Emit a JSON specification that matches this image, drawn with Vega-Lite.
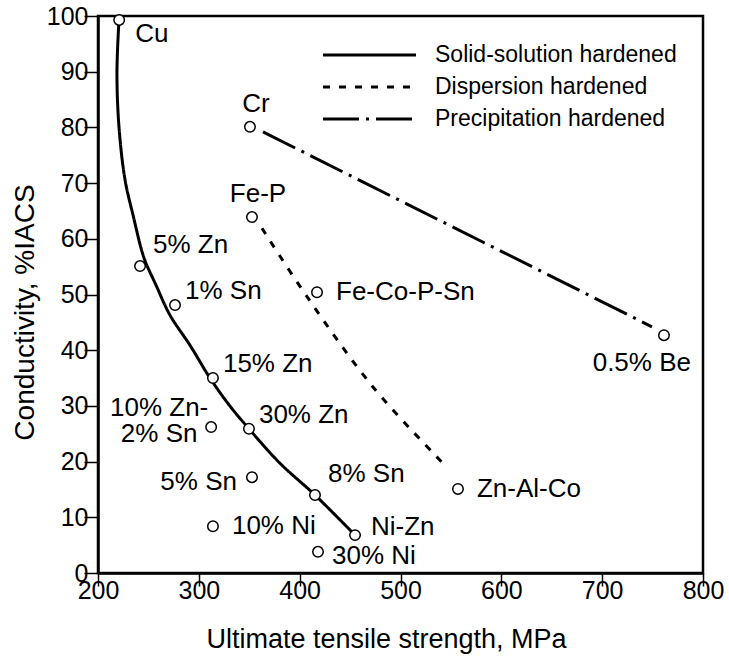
{
  "$schema": "https://vega.github.io/schema/vega-lite/v6.json",
  "width": 605,
  "height": 557,
  "autosize": {"type": "none"},
  "padding": {"left": 98, "top": 16, "right": 26, "bottom": 84},
  "background": "white",
  "config": {
    "font": "Liberation Sans",
    "view": {"stroke": "black", "strokeWidth": 2.5},
    "axis": {
      "domainColor": "black", "domainWidth": 2.5,
      "tickColor": "black", "tickWidth": 1.5,
      "labelColor": "black", "titleColor": "black",
      "grid": false,
      "labelFont": "Liberation Sans", "titleFont": "Liberation Sans",
      "titleFontWeight": "normal"
    }
  },
  "datasets": {
    "alloys": [
      {"name": "Cu", "strength": 221, "conductivity": 99.3, "side": "downright"},
      {"name": "5% Zn", "strength": 241.7, "conductivity": 55.1, "side": "upfar"},
      {"name": "1% Sn", "strength": 276.4, "conductivity": 48.1, "side": "upright"},
      {"name": "15% Zn", "strength": 314, "conductivity": 35, "side": "upright"},
      {"name": "10% Zn-\n2% Sn", "strength": 312.2, "conductivity": 26.2, "side": "upleft"},
      {"name": "30% Zn", "strength": 349.7, "conductivity": 25.9, "side": "upright"},
      {"name": "5% Sn", "strength": 352.7, "conductivity": 17.2, "side": "left"},
      {"name": "8% Sn", "strength": 415.2, "conductivity": 14, "side": "upfar"},
      {"name": "10% Ni", "strength": 314, "conductivity": 8.4, "side": "right"},
      {"name": "Ni-Zn", "strength": 454.9, "conductivity": 6.8, "side": "rightup"},
      {"name": "30% Ni", "strength": 418.2, "conductivity": 3.8, "side": "rightdown"},
      {"name": "Cr", "strength": 350.7, "conductivity": 80.1, "side": "above"},
      {"name": "Fe-P", "strength": 352.7, "conductivity": 63.9, "side": "above"},
      {"name": "Fe-Co-P-Sn", "strength": 417.2, "conductivity": 50.4, "side": "right"},
      {"name": "Zn-Al-Co", "strength": 557, "conductivity": 15.1, "side": "right"},
      {"name": "0.5% Be", "strength": 761.3, "conductivity": 42.7, "side": "below"}
    ],
    "curves": [
      {"series": "Solid-solution hardened", "order": 1, "strength": 220.8, "conductivity": 99.3},
      {"series": "Solid-solution hardened", "order": 2, "strength": 218.8, "conductivity": 89.8},
      {"series": "Solid-solution hardened", "order": 3, "strength": 220.8, "conductivity": 80.1},
      {"series": "Solid-solution hardened", "order": 4, "strength": 226.8, "conductivity": 70.6},
      {"series": "Solid-solution hardened", "order": 5, "strength": 234.7, "conductivity": 64.3},
      {"series": "Solid-solution hardened", "order": 6, "strength": 245.6, "conductivity": 56.6},
      {"series": "Solid-solution hardened", "order": 7, "strength": 257.5, "conductivity": 51.7},
      {"series": "Solid-solution hardened", "order": 8, "strength": 271.4, "conductivity": 46.3},
      {"series": "Solid-solution hardened", "order": 9, "strength": 291.2, "conductivity": 40.9},
      {"series": "Solid-solution hardened", "order": 10, "strength": 311.1, "conductivity": 35.0},
      {"series": "Solid-solution hardened", "order": 11, "strength": 329.9, "conductivity": 30.2},
      {"series": "Solid-solution hardened", "order": 12, "strength": 349.7, "conductivity": 25.9},
      {"series": "Solid-solution hardened", "order": 13, "strength": 380.5, "conductivity": 19.7},
      {"series": "Solid-solution hardened", "order": 14, "strength": 415.2, "conductivity": 14.0},
      {"series": "Solid-solution hardened", "order": 15, "strength": 454.9, "conductivity": 6.8},
      {"series": "Dispersion hardened", "order": 1, "strength": 362.6, "conductivity": 61.9},
      {"series": "Dispersion hardened", "order": 2, "strength": 407.3, "conductivity": 49.6},
      {"series": "Dispersion hardened", "order": 3, "strength": 472.7, "conductivity": 33.4},
      {"series": "Dispersion hardened", "order": 4, "strength": 542.1, "conductivity": 19.7},
      {"series": "Precipitation hardened", "order": 1, "strength": 363.6, "conductivity": 79.2},
      {"series": "Precipitation hardened", "order": 2, "strength": 749.4, "conductivity": 44.2}
    ]
  },
  "encoding": {
    "x": {
      "field": "strength", "type": "quantitative",
      "scale": {"domain": [200, 800], "nice": false, "zero": false},
      "axis": {
        "title": "Ultimate tensile strength, MPa",
        "values": [200, 300, 400, 500, 600, 700, 800],
        "format": "d", "tickSize": 13, "labelPadding": -8,
        "labelFontSize": 25, "labelOverlap": false, "labelFlush": false,
        "titleFontSize": 27, "titleX": 288, "titleY": 74,
        "titleBaseline": "alphabetic", "titleAlign": "center", "titleAnchor": null,
        "encode": {"ticks": {"update": {"y2": {"value": -13}}}}
      }
    },
    "y": {
      "field": "conductivity", "type": "quantitative",
      "scale": {"domain": [0, 100], "nice": false, "zero": false},
      "axis": {
        "title": "Conductivity, %IACS",
        "values": [0, 10, 20, 30, 40, 50, 60, 70, 80, 90, 100],
        "format": "d", "tickSize": 14, "labelPadding": -4,
        "labelFontSize": 25, "labelOverlap": false, "labelFlush": false,
        "titleFontSize": 28, "titleX": -65, "titleY": 296,
        "titleBaseline": "alphabetic", "titleAlign": "center", "titleAnchor": null,
        "encode": {"ticks": {"update": {"x2": {"value": 14}}}}
      }
    }
  },
  "layer": [
    {
      "data": {"name": "curves"},
      "mark": {"type": "line", "interpolate": "catmull-rom", "strokeWidth": 3, "color": "black"},
      "encoding": {
        "strokeDash": {
          "field": "series", "type": "nominal",
          "scale": {
            "domain": ["Solid-solution hardened", "Dispersion hardened", "Precipitation hardened"],
            "range": [[1, 0], [7, 9], [36, 7, 3, 7]]
          },
          "legend": {
            "title": null, "orient": "none", "legendX": 208, "legendY": 22,
            "padding": 0, "symbolType": "M0,0H6", "symbolSize": 961,
            "symbolStrokeWidth": 3, "symbolStrokeColor": "black", "symbolFillColor": "transparent",
            "labelFontSize": 23, "labelFont": "Liberation Sans", "labelColor": "black",
            "labelOffset": 95, "labelLimit": 400, "rowPadding": 3
          }
        },
        "order": {"field": "order", "type": "quantitative"}
      }
    },
    {
      "data": {"name": "alloys"},
      "mark": {"type": "point", "shape": "circle", "filled": true, "fill": "white", "stroke": "black", "strokeWidth": 1.5, "size": 110, "opacity": 1}
    },
    {
      "data": {"name": "alloys"},
      "transform": [{"filter": "datum.side === 'right'"}],
      "mark": {"type": "text", "align": "left", "baseline": "middle", "dx": 19, "dy": 0, "fontSize": 26, "font": "Liberation Sans", "color": "black"},
      "encoding": {"text": {"field": "name", "type": "nominal"}}
    },
    {
      "data": {"name": "alloys"},
      "transform": [{"filter": "datum.side === 'rightup'"}],
      "mark": {"type": "text", "align": "left", "baseline": "middle", "dx": 16, "dy": -8, "fontSize": 26, "font": "Liberation Sans", "color": "black"},
      "encoding": {"text": {"field": "name", "type": "nominal"}}
    },
    {
      "data": {"name": "alloys"},
      "transform": [{"filter": "datum.side === 'rightdown'"}],
      "mark": {"type": "text", "align": "left", "baseline": "middle", "dx": 14, "dy": 4, "fontSize": 26, "font": "Liberation Sans", "color": "black"},
      "encoding": {"text": {"field": "name", "type": "nominal"}}
    },
    {
      "data": {"name": "alloys"},
      "transform": [{"filter": "datum.side === 'upright'"}],
      "mark": {"type": "text", "align": "left", "baseline": "middle", "dx": 10, "dy": -14, "fontSize": 26, "font": "Liberation Sans", "color": "black"},
      "encoding": {"text": {"field": "name", "type": "nominal"}}
    },
    {
      "data": {"name": "alloys"},
      "transform": [{"filter": "datum.side === 'upfar'"}],
      "mark": {"type": "text", "align": "left", "baseline": "middle", "dx": 13, "dy": -21, "fontSize": 26, "font": "Liberation Sans", "color": "black"},
      "encoding": {"text": {"field": "name", "type": "nominal"}}
    },
    {
      "data": {"name": "alloys"},
      "transform": [{"filter": "datum.side === 'downright'"}],
      "mark": {"type": "text", "align": "left", "baseline": "middle", "dx": 16, "dy": 14, "fontSize": 26, "font": "Liberation Sans", "color": "black"},
      "encoding": {"text": {"field": "name", "type": "nominal"}}
    },
    {
      "data": {"name": "alloys"},
      "transform": [{"filter": "datum.side === 'left'"}],
      "mark": {"type": "text", "align": "right", "baseline": "middle", "dx": -15, "dy": 5, "fontSize": 26, "font": "Liberation Sans", "color": "black"},
      "encoding": {"text": {"field": "name", "type": "nominal"}}
    },
    {
      "data": {"name": "alloys"},
      "transform": [{"filter": "datum.side === 'below'"}],
      "mark": {"type": "text", "align": "right", "baseline": "middle", "dx": 27, "dy": 28, "fontSize": 26, "font": "Liberation Sans", "color": "black"},
      "encoding": {"text": {"field": "name", "type": "nominal"}}
    },
    {
      "data": {"name": "alloys"},
      "transform": [{"filter": "datum.side === 'above'"}],
      "mark": {"type": "text", "align": "center", "baseline": "middle", "dx": 6, "dy": -23, "fontSize": 26, "font": "Liberation Sans", "color": "black"},
      "encoding": {"text": {"field": "name", "type": "nominal"}}
    },
    {
      "data": {"name": "alloys"},
      "transform": [{"filter": "datum.side === 'upleft'"}],
      "mark": {"type": "text", "align": "center", "baseline": "middle", "dx": -52, "dy": -19, "lineBreak": "\n", "lineHeight": 26, "fontSize": 26, "font": "Liberation Sans", "color": "black"},
      "encoding": {"text": {"field": "name", "type": "nominal"}}
    }
  ]
}
